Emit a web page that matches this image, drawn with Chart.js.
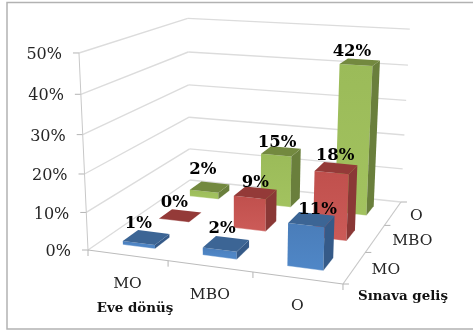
<!DOCTYPE html>
<html>
<head>
<meta charset="utf-8">
<title>Eve dönüş / Sınava geliş</title>
<script src="https://cdn.jsdelivr.net/npm/chart.js@4"></script>
<style>
  html, body { margin: 0; background: #fff; }
  canvas { display: block; }
</style>
</head>
<body>
<canvas id="chart" width="473" height="331"></canvas>
<script>
const homeLabels = ["MO", "MBO", "O"];
const examLabels = ["MO", "MBO", "O"];
const percentTicks = [0, 10, 20, 30, 40, 50];
const examMO = [1, 2, 11];
const examMBO = [0, 9, 18];
const examO = [2, 15, 42];

// u along the front edge, v into the depth, w up the wall
const camera = {
  x: [226.1, 146, -13.6, 88],
  y: [10.1, -28.3, -200.1, 250],
  d: [-0.0842, 0.2317, -0.058, 1],
};
const BAR_U = 0.068;
const BAR_V = 0.068;

// value labels sit a little off the box tops, row by row
const labelNudge = [
  [[-8, -14], [-4, -15], [6, -10]],
  [[-6, -13], [0, -10], [-1, -12]],
  [[-7, -17], [-4, -9], [-8, -10]],
];

const SERIF = '"DejaVu Serif", serif';
const colors = [
  { front: ["#4a7db9", "#4f86c6"], side: "#355a88", top: "#3c6595" },
  { front: ["#c0504d", "#cb5a57"], side: "#8a3836", top: "#943a38" },
  { front: ["#9bbb59", "#a2c25f"], side: "#6a7f3c", top: "#73893f" },
];

function project(u, v, w) {
  const dot = (m) => m[0] * u + m[1] * v + m[2] * w + m[3];
  const d = dot(camera.d);
  return { x: dot(camera.x) / d, y: dot(camera.y) / d };
}

function fraction(scale, value) {
  const px = scale.getPixelForValue(value);
  return scale.isHorizontal()
    ? (px - scale.left) / scale.width
    : (scale.bottom - px) / scale.height;
}

function line(ctx, a, b, color, width) {
  ctx.strokeStyle = color;
  ctx.lineWidth = width;
  ctx.beginPath();
  ctx.moveTo(a.x, a.y);
  ctx.lineTo(b.x, b.y);
  ctx.stroke();
}

function face(ctx, pts, fill) {
  ctx.fillStyle = fill;
  ctx.beginPath();
  pts.forEach((p, i) => (i ? ctx.lineTo(p.x, p.y) : ctx.moveTo(p.x, p.y)));
  ctx.closePath();
  ctx.fill();
}

function drawWalls(ctx, chart) {
  const yScale = chart.scales.y;
  ctx.lineCap = "butt";
  yScale.ticks.forEach((t) => {
    const w = fraction(yScale, t.value);
    const a = project(0, 0, w);
    const b = project(0, 1, w);
    const c = project(1, 1, w);
    line(ctx, a, b, "#dcdcdc", 1.4);
    line(ctx, b, c, "#dcdcdc", 1.4);
    line(ctx, { x: a.x - 6, y: a.y }, a, "#b4b4b4", 1);
    ctx.fillStyle = "#262626";
    ctx.font = "16px " + SERIF;
    ctx.textAlign = "right";
    ctx.textBaseline = "middle";
    ctx.fillText(t.value + "%", a.x - 17, a.y + 2);
  });
  line(ctx, project(0, 0, 0), project(0, 0, 1), "#c8c8c8", 1);
  line(ctx, project(0, 0, 0), project(1, 0, 0), "#bcbcbc", 1.2);
  line(ctx, project(1, 0, 0), project(1, 1, 0), "#c8c8c8", 1.2);
}

function drawAxisLabels(ctx, chart) {
  const xScale = chart.scales.x;
  const depth = chart.scales.depth;
  ctx.fillStyle = "#262626";
  ctx.font = "15.5px " + SERIF;
  ctx.textBaseline = "middle";

  ctx.textAlign = "center";
  xScale.getLabels().forEach((label, i) => {
    const p = project(fraction(xScale, i), 0, 0);
    ctx.fillText(label, p.x, p.y + 28.5);
  });
  ctx.textAlign = "left";
  depth.getLabels().forEach((label, i) => {
    const p = project(1, fraction(depth, i), 0);
    ctx.fillText(label, p.x + 17, p.y + 2.5);
  });

  [0, 1 / 3, 2 / 3, 1].forEach((s) => {
    const p = project(s, 0, 0);
    line(ctx, p, { x: p.x, y: p.y + 6 }, "#b4b4b4", 1);
    const q = project(1, s, 0);
    line(ctx, q, { x: q.x + 6, y: q.y }, "#b4b4b4", 1);
  });

  ctx.fillStyle = "#111";
  ctx.font = "bold 13.4px " + SERIF;
  ctx.textAlign = "center";
  ctx.fillText(xScale.options.title.text, 135, 309);
  ctx.fillText(depth.options.title.text, 403, 297);
}

function drawBar(ctx, u, v, w, palette) {
  const u0 = u - BAR_U, u1 = u + BAR_U;
  const v0 = v - BAR_V, v1 = v + BAR_V;
  const fbl = project(u0, v0, 0), fbr = project(u1, v0, 0);
  const ftl = project(u0, v0, w), ftr = project(u1, v0, w);
  const bbr = project(u1, v1, 0);
  const btl = project(u0, v1, w), btr = project(u1, v1, w);

  const grad = ctx.createLinearGradient(0, ftl.y, 0, fbl.y);
  grad.addColorStop(0, palette.front[0]);
  grad.addColorStop(1, palette.front[1]);
  face(ctx, [ftl, ftr, fbr, fbl], grad);
  face(ctx, [ftr, btr, bbr, fbr], palette.side);
  face(ctx, [ftl, btl, btr, ftr], palette.top);

  // soft highlight along the foot of the box
  line(ctx, fbl, fbr, "rgba(255,255,255,0.35)", 1);
  line(ctx, fbr, bbr, "rgba(255,255,255,0.2)", 1);
}

const bars3d = {
  id: "bars3d",
  // the native flat bars are replaced by projected boxes
  beforeDatasetsDraw(chart) {
    const ctx = chart.ctx;
    const xScale = chart.scales.x;
    const yScale = chart.scales.y;
    const depth = chart.scales.depth;

    ctx.save();
    ctx.strokeStyle = "#b2b2b2";
    ctx.lineWidth = 1.5;
    ctx.beginPath();
    ctx.moveTo(480, 2.5);
    ctx.lineTo(7, 2.5);
    ctx.lineTo(7, 329);
    ctx.lineTo(480, 329);
    ctx.stroke();

    drawWalls(ctx, chart);
    drawAxisLabels(ctx, chart);

    // back row first so nearer boxes cover the ones behind
    for (let row = chart.data.datasets.length - 1; row >= 0; row--) {
      const ds = chart.data.datasets[row];
      const v = fraction(depth, row);
      ds.data.forEach((value, col) => {
        drawBar(ctx, fraction(xScale, col), v, fraction(yScale, value), colors[row]);
      });
    }

    ctx.fillStyle = "#000";
    ctx.font = "bold 16.5px " + SERIF;
    ctx.textAlign = "center";
    ctx.textBaseline = "middle";
    chart.data.datasets.forEach((ds, row) => {
      const v = fraction(depth, row);
      ds.data.forEach((value, col) => {
        const p = project(fraction(xScale, col), v, fraction(yScale, value));
        const nudge = labelNudge[row][col];
        ctx.fillText(value + "%", p.x + nudge[0], p.y + nudge[1]);
      });
    });
    ctx.restore();
    return false;
  },
};

new Chart(document.getElementById("chart"), {
  type: "bar",
  data: {
    labels: homeLabels,
    datasets: [
      { label: examLabels[0], data: examMO },
      { label: examLabels[1], data: examMBO },
      { label: examLabels[2], data: examO },
    ],
  },
  options: {
    responsive: false,
    animation: false,
    events: [],
    plugins: { legend: { display: false }, tooltip: { enabled: false } },
    scales: {
      x: {
        display: false,
        offset: true,
        title: { text: "Eve dönüş" },
      },
      depth: {
        type: "category",
        axis: "x",
        display: false,
        offset: true,
        labels: examLabels,
        title: { text: "Sınava geliş" },
      },
      y: {
        display: false,
        min: percentTicks[0],
        max: percentTicks[percentTicks.length - 1],
        ticks: { stepSize: percentTicks[1] - percentTicks[0] },
      },
    },
  },
  plugins: [bars3d],
});
</script>
</body>
</html>
